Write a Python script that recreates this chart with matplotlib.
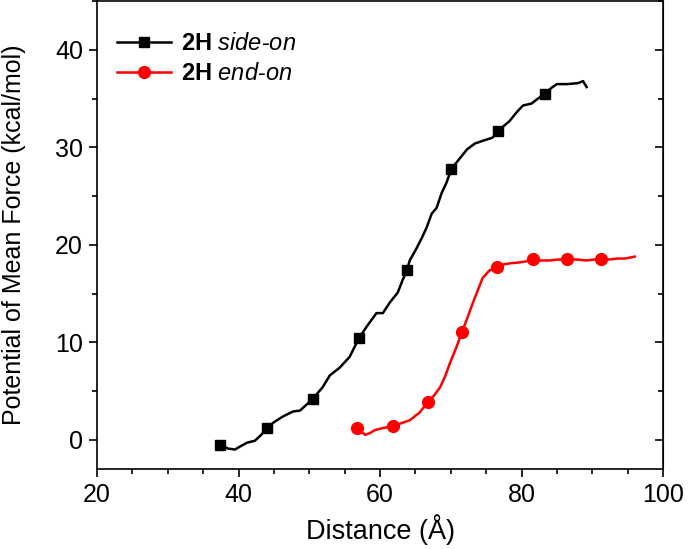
import matplotlib
matplotlib.use("Agg")
import matplotlib.pyplot as plt
from matplotlib.ticker import MultipleLocator

plt.rcParams['font.family'] = ['Liberation Sans', 'DejaVu Sans']
plt.rcParams['mathtext.fontset'] = 'custom'
plt.rcParams['mathtext.rm'] = 'Liberation Sans'
plt.rcParams['mathtext.it'] = 'Liberation Sans:italic'
plt.rcParams['mathtext.bf'] = 'Liberation Sans:bold'

# 2H side-on PMF curve
side_x = [37.4, 38.5, 39.5, 40.2, 41.2, 42.3, 43.2, 44.0, 45.0, 46.3, 47.7, 48.7,
          49.6, 50.5, 51.9, 52.9, 54.3, 55.7, 57.0, 58.1, 59.5, 60.4, 61.4, 62.5,
          63.2, 63.8, 64.2, 65.2, 65.9, 66.6, 67.3, 68.0, 68.7, 69.4, 70.1, 71.3,
          72.3, 73.4, 74.6, 75.9, 76.7, 78.3, 79.3, 80.2, 81.4, 82.3, 83.3, 84.2,
          85.0, 86.5, 88.0, 88.7, 89.2]
side_y = [-0.5, -0.9, -1.0, -0.7, -0.3, -0.1, 0.5, 1.2, 1.8, 2.4, 2.9, 3.0,
          3.6, 4.2, 5.4, 6.6, 7.4, 8.5, 10.4, 11.6, 13.0, 13.0, 14.1, 15.1,
          16.4, 17.4, 18.4, 19.7, 20.7, 21.8, 23.2, 23.8, 25.3, 26.4, 27.8, 28.9,
          29.8, 30.4, 30.7, 31.0, 31.7, 32.7, 33.6, 34.3, 34.5, 35.0, 35.5, 36.1,
          36.5, 36.5, 36.6, 36.8, 36.2]
side_marks = [37.4, 44.0, 50.5, 57.0, 63.8, 70.1, 76.7, 83.3]

# 2H end-on PMF curve
end_x = [56.8, 57.4, 57.9, 58.6, 59.3, 60.4, 61.8, 63.0, 64.2, 65.6, 66.8, 67.7,
         68.5, 69.2, 69.9, 70.8, 71.6, 72.4, 73.1, 74.5, 75.5, 76.6, 77.5, 78.3,
         79.7, 80.6, 81.6, 82.6, 84.0, 85.2, 86.4, 87.8, 89.2, 90.3, 91.2, 92.4,
         93.6, 94.6, 95.4, 96.0]
end_y = [1.2, 0.8, 0.5, 0.7, 1.0, 1.2, 1.4, 1.7, 2.0, 2.8, 3.9, 4.6,
         5.4, 6.5, 7.9, 9.5, 11.1, 12.6, 14.0, 16.6, 17.4, 17.7, 18.0, 18.1,
         18.2, 18.3, 18.5, 18.4, 18.4, 18.5, 18.5, 18.5, 18.4, 18.5, 18.5, 18.5,
         18.6, 18.6, 18.7, 18.8]
end_marks = [56.8, 61.8, 66.8, 71.6, 76.6, 81.6, 86.4, 91.2]

fig = plt.figure(figsize=(6.89, 5.49), dpi=100)
ax = fig.add_axes([0.1408, 0.1457, 0.8215, 0.852])

ax.plot(side_x, side_y, color='black', lw=1.8, marker='s', ms=7,
        markevery=[side_x.index(v) for v in side_marks],
        label=r'$\mathbf{2H}$ $\mathit{side}$-$\mathit{on}$')
ax.plot(end_x, end_y, color='#ff0000', lw=1.8, marker='o', ms=8.5,
        markevery=[end_x.index(v) for v in end_marks],
        label=r'$\mathbf{2H}$ $\mathit{end}$-$\mathit{on}$')

ax.set_xlim(20, 100)
ax.set_ylim(-3, 45)
ax.xaxis.set_major_locator(MultipleLocator(20))
ax.xaxis.set_minor_locator(MultipleLocator(5))
ax.yaxis.set_major_locator(MultipleLocator(10))
ax.yaxis.set_minor_locator(MultipleLocator(5))

ax.tick_params(which='both', direction='out', top=False, right=False,
               labelsize=18, width=1.2, pad=4)
ax.tick_params(which='major', length=6)
ax.tick_params(which='minor', length=3.5)
for sp in ax.spines.values():
    sp.set_linewidth(1.2)

# inward ticks on right side
ax2 = ax.secondary_yaxis('right')
ax2.yaxis.set_major_locator(MultipleLocator(10))
ax2.yaxis.set_minor_locator(MultipleLocator(5))
ax2.tick_params(which='both', direction='in', labelright=False, width=1.2)
ax2.tick_params(which='major', length=6)
ax2.tick_params(which='minor', length=3.5)

ax.set_xlabel('Distance (Å)', fontsize=19.5, labelpad=5)
ax.set_ylabel('Potential of Mean Force (kcal/mol)', fontsize=18, labelpad=21)

ax.legend(loc='upper left', frameon=False, fontsize=17, handlelength=2.3,
          handletextpad=0.4, borderaxespad=0.45, labelspacing=0.35,
          bbox_to_anchor=(0.0, 0.975))

fig.savefig('out.png', dpi=100)
